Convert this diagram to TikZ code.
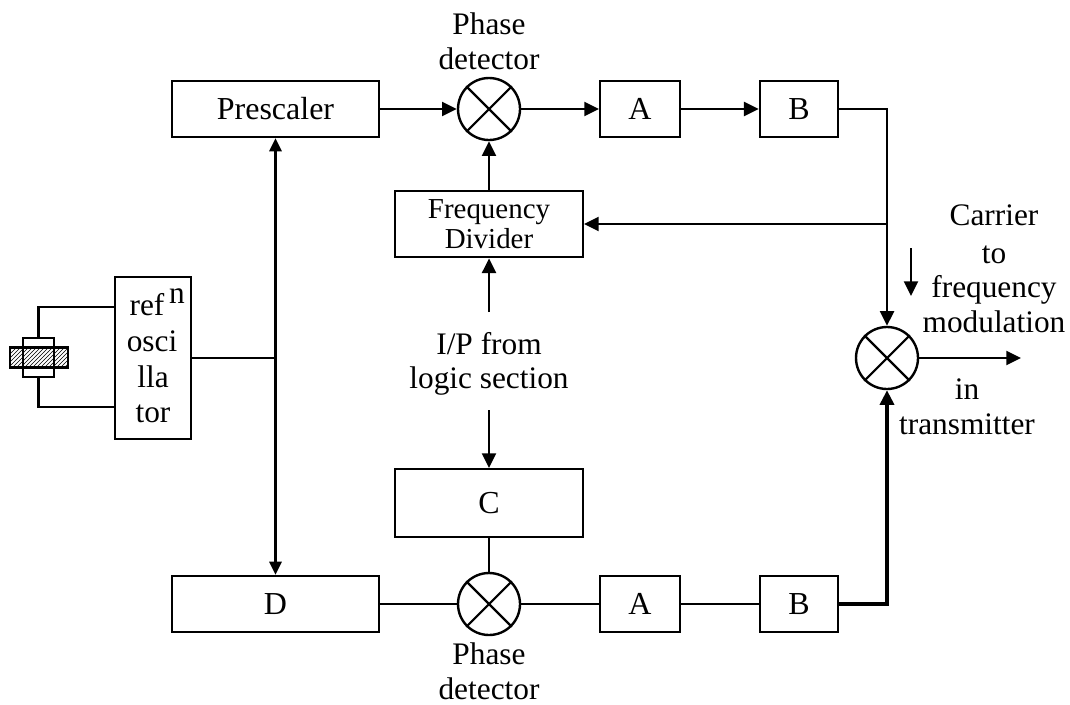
\documentclass[tikz,border=0pt]{standalone}
\usepackage{fontspec}
\setmainfont{Liberation Serif}
\usetikzlibrary{arrows.meta,patterns}
\tikzset{
 x=0.75pt,y=-0.75pt,
 wire/.style={line width=1.6pt,black},
 arr/.style={wire,-{Triangle[length=11pt,width=10.5pt]}},
 botharr/.style={line width=2.2pt,black,{Triangle[length=10pt,width=9pt]}-{Triangle[length=10pt,width=9pt]}},
 blockbox/.style={draw,line width=1.6pt,minimum height=42pt,inner sep=0pt,font=\fontsize{24}{27}\selectfont,anchor=center},
 mixer/.style={draw,circle,line width=1.8pt,minimum size=46.5pt,inner sep=0pt},
 lbl/.style={font=\fontsize{23.5}{26}\selectfont,align=center,inner sep=0pt},
 smalllbl/.style={font=\fontsize{21.7}{25}\selectfont,align=center,inner sep=0pt}
}
\newcommand{\crossmark}[1]{\draw[wire] (#1.45)--(#1.225) (#1.135)--(#1.315);}
\begin{document}
\begin{tikzpicture}
\useasboundingbox (0,0) rectangle (1070,704);
% blocks
\node[blockbox,minimum width=155pt] (pre) at (275.5,109) {Prescaler};
\node[mixer] (m1) at (489,109) {};
\node[blockbox,minimum width=60pt] (a1) at (640,109) {A};
\node[blockbox,minimum width=59pt] (b1) at (799,109) {B};
\node[blockbox,minimum width=141pt,minimum height=50pt,smalllbl] (fd) at (489,224) {Frequency\\[-2pt]Divider};
\node[lbl] (ip) at (489,364) {I/P from\\logic section};
\node[blockbox,minimum width=141pt,minimum height=51pt] (c) at (489,503) {C};
\node[blockbox,minimum width=155pt] (d) at (275.5,604) {D};
\node[mixer] (m2) at (489,604) {};
\node[blockbox,minimum width=60pt] (a2) at (640,604) {A};
\node[blockbox,minimum width=59pt] (b2) at (799,604) {B};
\node[mixer] (m3) at (887,358) {};
\node[draw,line width=1.6pt,minimum width=57pt,minimum height=122pt,inner sep=0pt] (osc) at (153,358) {};
\crossmark{m1}\crossmark{m2}\crossmark{m3}
% oscillator text
\node[lbl,anchor=base] (t1) at (147,315) {ref};
\node[lbl,anchor=base] (t1b) at (177,303) {n};
\node[lbl,anchor=base] (t2) at (152,351) {osci};
\node[lbl,anchor=base] (t3) at (153,387) {lla};
\node[lbl,anchor=base] (t4) at (153,422) {tor};
% labels
\node[lbl] (pd1) at (489,41) {Phase\\detector};
\node[lbl] (pd2) at (489,671) {Phase\\detector};
\node[lbl] (cr) at (994,269) {Carrier\\[2pt]to\\frequency\\modulation};
\node[lbl] (tx) at (967,407) {in\\transmitter};
% crystal
\node[draw,line width=1.6pt,fill=white,minimum width=23.25pt,minimum height=29.25pt,inner sep=0pt] (xi) at (38.5,357.5) {};
\node[draw,line width=2pt,pattern=north east lines,minimum width=43.5pt,minimum height=15pt,inner sep=0pt] (xo) at (39,357.5) {};
% connectors
\draw[arr] (pre.east|-m1) -- (m1.west);
\draw[arr] (m1.east) -- (a1.west);
\draw[arr] (a1.east) -- (b1.west);
\draw[arr] (b1.east) -| (m3.north);
\coordinate (tap) at (m3.north|-fd.east);
\draw[arr] (tap) -- (fd.east);
\draw[arr] (fd.north) -- (m1.south);
\coordinate (ipnn) at (489,312);
\draw[arr] (ipnn) -- (fd.south);
\coordinate (ips) at (489,410);
\draw[arr] (ips) -- (c.north);
\draw[wire] (c.south) -- (m2.north);
\draw[wire] (d.east) -- (m2.west);
\draw[wire] (m2.east) -- (a2.west);
\draw[wire] (a2.east) -- (b2.west);
\draw[arr,line width=2.6pt] (b2.east) -| (m3.south);
\coordinate (out) at (1021,358);
\draw[arr] (m3.east) -- (out);
\coordinate (sa) at (911,248);
\coordinate (sb) at (911,296);
\draw[arr] (sa) -- (sb);
\draw[botharr] (pre.south) -- (d.north);
\coordinate (jn) at (pre.south|-osc.east);
\draw[wire] (osc.east) -- (jn);
\coordinate (u) at (115,307);
\coordinate (l) at (115,407);
\draw[wire] (u) -| (xi.north);
\draw[wire] (l) -| (xi.south);
\end{tikzpicture}
\end{document}
